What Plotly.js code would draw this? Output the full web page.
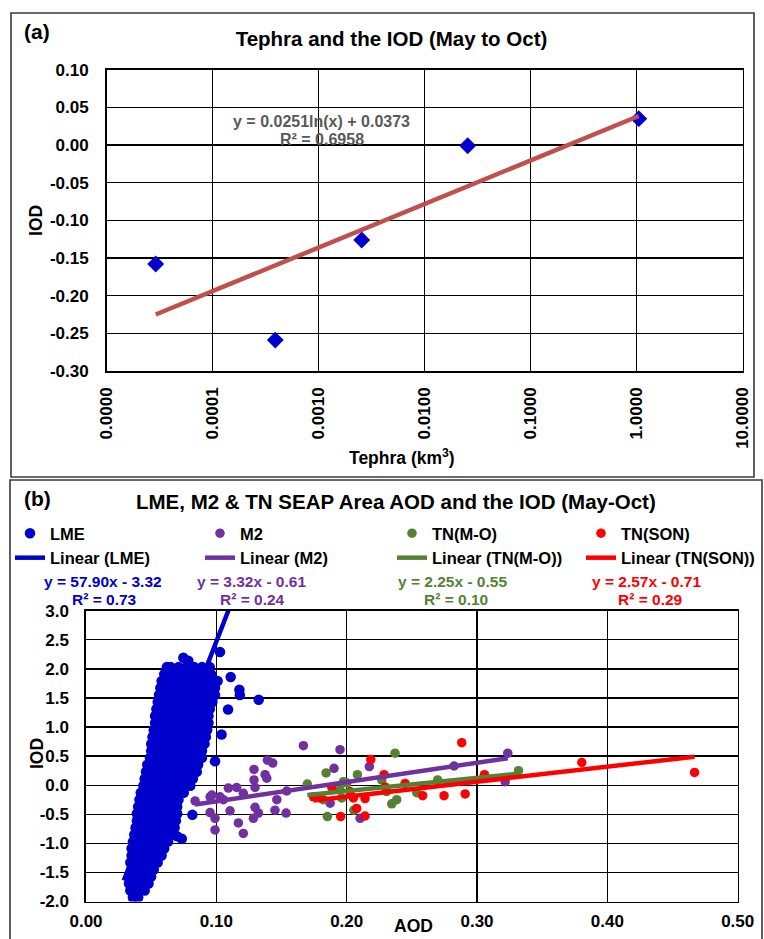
<!DOCTYPE html>
<html><head><meta charset="utf-8">
<script src="https://cdn.plot.ly/plotly-3.0.1.min.js"></script>
<style>html,body{margin:0;padding:0;background:#fff}#chart{width:764px;height:939px}</style>
</head><body><div id="chart"></div>
<script>
const FONT = "Arial, 'Liberation Sans', Helvetica, sans-serif";

// ---------- Panel (a): Tephra vs IOD ----------
const tephraX   = [0.000029, 0.00039, 0.00255, 0.0255, 1.05];
const tephraIOD = [-0.158, -0.259, -0.126, -0.001, 0.035];
const tephraFitX = [0.000029, 1.05];
const tephraFitY = [-0.225, 0.0385];
const tephraTickVals = [0.00001, 0.0001, 0.001, 0.01, 0.1, 1, 10];
const tephraTickText = ['0.0000','0.0001','0.0010','0.0100','0.1000','1.0000','10.0000'];
const iodTickValsA = [-0.30,-0.25,-0.20,-0.15,-0.10,-0.05,0.00,0.05,0.10];
const iodTickTextA = ['-0.30','-0.25','-0.20','-0.15','-0.10','-0.05','0.00','0.05','0.10'];

// ---------- Panel (b): AOD vs IOD ----------
const lmeX = [
 0.036,0.040,
 0.034,0.040,0.045,
 0.033,0.039,0.045,0.048,
 0.034,0.040,0.046,0.050,
 0.035,0.041,0.047,0.052,
 0.034,0.040,0.046,0.052,0.055,
 0.035,0.041,0.047,0.053,0.058,
 0.035,0.038,0.044,0.050,0.056,0.060,
 0.036,0.042,0.048,0.054,0.060,0.063,
 0.037,0.043,0.049,0.055,0.061,0.066,
 0.038,0.044,0.050,0.056,0.062,0.068,
 0.039,0.045,0.051,0.057,0.063,0.069,
 0.039,0.042,0.048,0.054,0.060,0.066,0.070,
 0.040,0.046,0.052,0.058,0.064,0.070,
 0.041,0.047,0.053,0.059,0.065,0.071,
 0.042,0.045,0.051,0.057,0.063,0.069,0.075,
 0.044,0.050,0.056,0.062,0.068,0.074,0.080,
 0.045,0.048,0.054,0.060,0.066,0.072,0.078,0.082,
 0.046,0.052,0.058,0.064,0.070,0.076,0.082,0.085,
 0.047,0.050,0.056,0.062,0.068,0.074,0.080,0.086,
 0.049,0.055,0.061,0.067,0.073,0.079,0.085,0.089,
 0.050,0.053,0.059,0.065,0.071,0.077,0.083,0.089,
 0.050,0.056,0.062,0.068,0.074,0.080,0.086,0.091,
 0.051,0.054,0.060,0.066,0.072,0.078,0.084,0.090,0.092,
 0.052,0.058,0.064,0.070,0.076,0.082,0.088,0.093,
 0.053,0.056,0.062,0.068,0.074,0.080,0.086,0.092,0.094,
 0.053,0.059,0.065,0.071,0.077,0.083,0.089,0.094,
 0.054,0.057,0.063,0.069,0.075,0.081,0.087,0.093,0.095,
 0.055,0.061,0.067,0.073,0.079,0.085,0.091,0.097,
 0.056,0.059,0.065,0.071,0.077,0.083,0.089,0.095,0.099,
 0.057,0.063,0.069,0.075,0.081,0.087,0.093,0.099,
 0.058,0.061,0.067,0.073,0.079,0.085,0.091,0.097,0.101,
 0.060,0.066,0.072,0.078,0.084,0.090,0.096,
 0.062,0.065,0.071,0.077,0.083,0.089,0.095,
 0.0747,0.0785,0.1028,0.1110,0.1177,0.1180,0.1325,0.1090,0.1040,0.0990,0.0816,0.0735,0.0700
];
const lmeY = [
 -1.93,-1.93,
 -1.81,-1.81,-1.81,
 -1.69,-1.69,-1.69,-1.69,
 -1.57,-1.57,-1.57,-1.57,
 -1.45,-1.45,-1.45,-1.45,
 -1.33,-1.33,-1.33,-1.33,-1.33,
 -1.21,-1.21,-1.21,-1.21,-1.21,
 -1.09,-1.09,-1.09,-1.09,-1.09,-1.09,
 -0.97,-0.97,-0.97,-0.97,-0.97,-0.97,
 -0.85,-0.85,-0.85,-0.85,-0.85,-0.85,
 -0.73,-0.73,-0.73,-0.73,-0.73,-0.73,
 -0.61,-0.61,-0.61,-0.61,-0.61,-0.61,
 -0.49,-0.49,-0.49,-0.49,-0.49,-0.49,-0.49,
 -0.37,-0.37,-0.37,-0.37,-0.37,-0.37,
 -0.25,-0.25,-0.25,-0.25,-0.25,-0.25,
 -0.13,-0.13,-0.13,-0.13,-0.13,-0.13,-0.13,
 -0.01,-0.01,-0.01,-0.01,-0.01,-0.01,-0.01,
 0.11,0.11,0.11,0.11,0.11,0.11,0.11,0.11,
 0.23,0.23,0.23,0.23,0.23,0.23,0.23,0.23,
 0.35,0.35,0.35,0.35,0.35,0.35,0.35,0.35,
 0.47,0.47,0.47,0.47,0.47,0.47,0.47,0.47,
 0.59,0.59,0.59,0.59,0.59,0.59,0.59,0.59,
 0.71,0.71,0.71,0.71,0.71,0.71,0.71,0.71,
 0.83,0.83,0.83,0.83,0.83,0.83,0.83,0.83,0.83,
 0.95,0.95,0.95,0.95,0.95,0.95,0.95,0.95,
 1.07,1.07,1.07,1.07,1.07,1.07,1.07,1.07,1.07,
 1.19,1.19,1.19,1.19,1.19,1.19,1.19,1.19,
 1.31,1.31,1.31,1.31,1.31,1.31,1.31,1.31,1.31,
 1.43,1.43,1.43,1.43,1.43,1.43,1.43,1.43,
 1.55,1.55,1.55,1.55,1.55,1.55,1.55,1.55,1.55,
 1.67,1.67,1.67,1.67,1.67,1.67,1.67,1.67,
 1.79,1.79,1.79,1.79,1.79,1.79,1.79,1.79,1.79,
 1.91,1.91,1.91,1.91,1.91,1.91,1.91,
 2.03,2.03,2.03,2.03,2.03,2.03,2.03,
 2.19,2.14,2.29,1.86,1.64,1.55,1.47,1.30,0.87,0.41,-0.51,-0.92,-0.88
];
const m2X = [0.0837,0.0952,0.0965,0.1028,0.1054,0.1092,0.1156,0.1207,0.0952,0.0990,0.0990,0.1105,0.1169,0.1207,
 0.1289,0.1289,0.1297,0.1374,0.1387,0.1392,0.1433,0.1297,0.1323,0.1284,0.1450,0.1464,0.1535,0.1540,
 0.1668,0.1949,0.1903,0.2174,0.1873,0.2103,0.2824,0.3236,0.3216];
const m2Y = [-0.27,-0.20,-0.17,-0.20,-0.25,-0.05,-0.04,-0.14,-0.47,-0.57,-0.77,-0.44,-0.65,-0.83,
 0.27,0.09,-0.04,0.18,0.12,0.43,0.38,-0.38,-0.48,-0.57,-0.43,-0.25,-0.48,-0.10,
 0.68,0.61,0.29,0.32,-0.31,-0.57,0.33,0.55,0.06];
const tnmoX = [0.1698,0.1821,0.1842,0.1852,0.1949,0.1962,0.1975,0.2000,0.2082,0.2055,0.2269,0.2307,0.2346,0.2384,0.2371,0.2538,0.2698,0.3318];
const tnmoY = [0.02,-0.25,0.21,-0.54,-0.08,-0.22,0.06,0.04,0.18,-0.43,0.09,-0.11,-0.32,-0.25,0.55,-0.13,0.09,0.25];
const tnsonX = [0.1745,0.1796,0.1886,0.1954,0.2026,0.2051,0.2077,0.2141,0.2141,0.2185,0.2287,0.2295,0.2448,0.2583,0.2747,0.2883,0.2909,0.3057,0.3804,0.4669];
const tnsonY = [-0.20,-0.22,-0.04,-0.54,-0.11,-0.22,-0.40,-0.53,-0.23,0.44,0.18,-0.03,0.03,-0.18,-0.18,0.73,-0.15,0.18,0.39,0.22];

const lmeFitX = [0.029, 0.1325],  lmeFitY = [-1.64, 4.35];
const m2FitX = [0.0837, 0.3236],  m2FitY = [-0.332, 0.464];
const tnmoFitX = [0.1698, 0.3318], tnmoFitY = [-0.168, 0.197];
const tnsonFitX = [0.1745, 0.4669], tnsonFitY = [-0.262, 0.490];

const seriesNames = ['LME','M2','TN(M-O)','TN(SON)'];
const fitNames = ['Linear (LME)','Linear (M2)','Linear (TN(M-O))','Linear (TN(SON))'];
const eqTexts = ['y = 57.90x - 3.32','y = 3.32x - 0.61','y = 2.25x - 0.55','y = 2.57x - 0.71'];
const r2Texts = ['R² = 0.73','R² = 0.24','R² = 0.10','R² = 0.29'];
const aodTickVals = [0,0.1,0.2,0.3,0.4,0.5];
const aodTickText = ['0.00','0.10','0.20','0.30','0.40','0.50'];
const iodTickValsB = [-2,-1.5,-1,-0.5,0,0.5,1,1.5,2,2.5,3];
const iodTickTextB = ['-2.0','-1.5','-1.0','-0.5','0.0','0.5','1.0','1.5','2.0','2.5','3.0'];

const C = {lme:'#0000CC', m2:'#7030A0', tnmo:'#548235', tnson:'#FF0000'};
const W = 764, H = 939;
const px = v => v / W;
const py = v => 1 - v / H;
const bold = (size, color) => ({family: FONT, size: size, color: color || '#000', weight: 'bold'});

const traces = [
  {x: tephraX, y: tephraIOD, xaxis:'x', yaxis:'y', mode:'markers', type:'scatter', showlegend:false,
   marker:{symbol:'diamond', size:13, color:C.lme}},
  {x: tephraFitX, y: tephraFitY, xaxis:'x', yaxis:'y', mode:'lines', type:'scatter', showlegend:false,
   line:{color:'#C0504D', width:4.5}},
  {x: lmeX, y: lmeY, xaxis:'x2', yaxis:'y2', mode:'markers', type:'scatter', name:seriesNames[0], legend:'legend',
   marker:{size:10.5, color:C.lme}},
  {x: m2X, y: m2Y, xaxis:'x2', yaxis:'y2', mode:'markers', type:'scatter', name:seriesNames[1], legend:'legend2',
   marker:{size:9.5, color:C.m2}},
  {x: tnmoX, y: tnmoY, xaxis:'x2', yaxis:'y2', mode:'markers', type:'scatter', name:seriesNames[2], legend:'legend3',
   marker:{size:9.5, color:C.tnmo}},
  {x: tnsonX, y: tnsonY, xaxis:'x2', yaxis:'y2', mode:'markers', type:'scatter', name:seriesNames[3], legend:'legend4',
   marker:{size:9.5, color:C.tnson}},
  {x: lmeFitX, y: lmeFitY, xaxis:'x2', yaxis:'y2', mode:'lines', type:'scatter', name:fitNames[0], legend:'legend',
   line:{color:C.lme, width:4.5}},
  {x: m2FitX, y: m2FitY, xaxis:'x2', yaxis:'y2', mode:'lines', type:'scatter', name:fitNames[1], legend:'legend2',
   line:{color:C.m2, width:4.5}},
  {x: tnmoFitX, y: tnmoFitY, xaxis:'x2', yaxis:'y2', mode:'lines', type:'scatter', name:fitNames[2], legend:'legend3',
   line:{color:C.tnmo, width:4.5}},
  {x: tnsonFitX, y: tnsonFitY, xaxis:'x2', yaxis:'y2', mode:'lines', type:'scatter', name:fitNames[3], legend:'legend4',
   line:{color:C.tnson, width:4.5}}
];

const axisCommon = {showgrid:true, gridcolor:'#000', gridwidth:1.3, showline:true, mirror:true,
  linecolor:'#000', linewidth:1.6, ticks:'', zeroline:false, tickfont: bold(17), fixedrange:true};

const eqColors = [C.lme, C.m2, C.tnmo, C.tnson];
const eqX = [103, 251, 453, 646];
const r2X = [104, 252, 456, 650];
const legendStartX = [10, 200, 392, 581];

const annotations = [
  {text:'(a)', x:px(22), y:py(31), xref:'paper', yref:'paper', xanchor:'left', yanchor:'middle', showarrow:false, font:bold(21)},
  {text:'y = 0.0251ln(x) + 0.0373', x:px(321), y:py(121.5), xref:'paper', yref:'paper', xanchor:'center', yanchor:'middle', showarrow:false, font:bold(16,'#595959')},
  {text:'R² = 0.6958', x:px(322), y:py(139.3), xref:'paper', yref:'paper', xanchor:'center', yanchor:'middle', showarrow:false, font:bold(16,'#595959')},
  {text:'Tephra (km<sup>3</sup>)', x:px(402), y:py(456.5), xref:'paper', yref:'paper', xanchor:'center', yanchor:'middle', showarrow:false, font:bold(17.5)},
  {text:'(b)', x:px(22), y:py(498), xref:'paper', yref:'paper', xanchor:'left', yanchor:'middle', showarrow:false, font:bold(21)},
  {text:'LME, M2 & TN SEAP Area AOD and the IOD (May-Oct)', x:px(396), y:py(501), xref:'paper', yref:'paper', xanchor:'center', yanchor:'middle', showarrow:false, font:bold(20.5)},
  {text:'AOD', x:px(413), y:py(926), xref:'paper', yref:'paper', xanchor:'center', yanchor:'middle', showarrow:false, font:bold(17.5)},
  {text:'IOD', x:px(37), y:py(754), xref:'paper', yref:'paper', xanchor:'center', yanchor:'middle', textangle:-90, showarrow:false, font:bold(17.5)}
];
for (let i = 0; i < 4; i++) {
  annotations.push({text:eqTexts[i], x:px(eqX[i]), y:py(581.7), xref:'paper', yref:'paper', xanchor:'center', yanchor:'middle', showarrow:false, font:bold(15.5, eqColors[i])});
  annotations.push({text:r2Texts[i], x:px(r2X[i]), y:py(599.3), xref:'paper', yref:'paper', xanchor:'center', yanchor:'middle', showarrow:false, font:bold(15.5, eqColors[i])});
}

const legendBase = i => ({orientation:'v', xref:'paper', yref:'paper', x:px(legendStartX[i]), xanchor:'left',
  y:py(516), yanchor:'top', bgcolor:'rgba(0,0,0,0)', borderwidth:0, font:bold(16.5),
  tracegroupgap:0, itemclick:false, itemdoubleclick:false, traceorder:'normal'});

const layout = {
  width: W, height: H,
  margin: {l:0, r:0, t:0, b:0},
  paper_bgcolor:'#fff', plot_bgcolor:'#fff',
  font: {family: FONT, color:'#000'},
  title: {text:'Tephra and the IOD (May to Oct)', x:px(391.5), xanchor:'center', y:py(39), yanchor:'middle', font:bold(20.5)},
  xaxis: Object.assign({}, axisCommon, {type:'log', domain:[px(106.7), px(742.5)], range:[-5, 1], anchor:'y',
    tickvals: tephraTickVals, ticktext: tephraTickText, tickangle:-90, ticklabelstandoff:8}),
  yaxis: Object.assign({}, axisCommon, {domain:[py(371), py(69.7)], range:[-0.30, 0.10], anchor:'x',
    tickvals: iodTickValsA, ticktext: iodTickTextA, ticklabelstandoff:13,
    title:{text:'IOD', font:bold(17.5), standoff:3}}),
  xaxis2: Object.assign({}, axisCommon, {domain:[px(86), px(737.7)], range:[0, 0.5], anchor:'y2',
    tickvals: aodTickVals, ticktext: aodTickText, ticklabelstandoff:3}),
  yaxis2: Object.assign({}, axisCommon, {domain:[py(901.5), py(610.7)], range:[-2, 3], anchor:'x2',
    tickvals: iodTickValsB, ticktext: iodTickTextB, ticklabelstandoff:12}),
  showlegend: true,
  legend: legendBase(0),
  legend2: legendBase(1),
  legend3: legendBase(2),
  legend4: legendBase(3),
  annotations: annotations,
  shapes: [
    {type:'rect', xref:'paper', yref:'paper', x0:px(11), x1:px(754), y0:py(477), y1:py(13), line:{color:'#3a3a3a', width:1.6}},
    {type:'rect', xref:'paper', yref:'paper', x0:px(10), x1:px(762), y0:py(945), y1:py(480), line:{color:'#3a3a3a', width:1.6}}
  ]
};

Plotly.newPlot('chart', traces, layout, {displayModeBar:false, staticPlot:true});
</script>
</body></html>
